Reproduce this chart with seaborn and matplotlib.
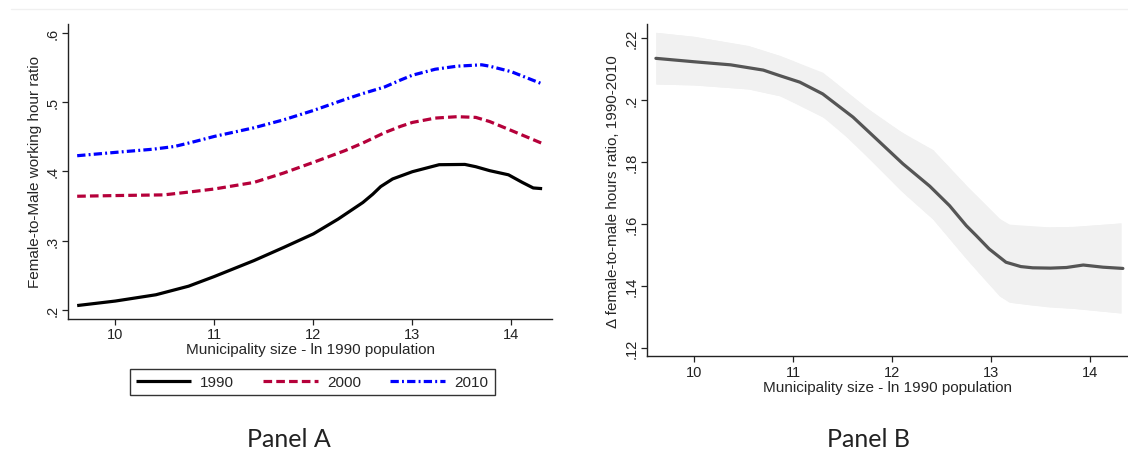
import numpy as np
import pandas as pd
import matplotlib
matplotlib.use("Agg")
import matplotlib.pyplot as plt
from matplotlib.lines import Line2D
import seaborn as sns

# ---------------- Panel A data ----------------
x_1990 = [9.615, 10.0, 10.41, 10.74, 11.0, 11.4, 11.7, 12.0, 12.25, 12.5, 12.6, 12.68, 12.8, 13.0, 13.27, 13.53, 13.64, 13.78, 13.97, 14.11, 14.22, 14.31]
y_1990 = [0.206, 0.2125, 0.2216, 0.234, 0.248, 0.271, 0.290, 0.3096, 0.331, 0.355, 0.367, 0.378, 0.389, 0.3995, 0.4096, 0.410, 0.4067, 0.401, 0.395, 0.384, 0.376, 0.375]

x_2000 = [9.615, 10.0, 10.49, 10.74, 11.0, 11.4, 11.7, 12.0, 12.32, 12.5, 12.72, 12.88, 13.0, 13.23, 13.45, 13.64, 13.78, 14.0, 14.30]
y_2000 = [0.364, 0.365, 0.366, 0.370, 0.3745, 0.384, 0.3976, 0.413, 0.430, 0.441, 0.456, 0.465, 0.4707, 0.477, 0.479, 0.478, 0.472, 0.459, 0.441]

x_2010 = [9.615, 10.0, 10.38, 10.6, 10.8, 11.0, 11.4, 11.7, 12.0, 12.32, 12.5, 12.72, 12.88, 13.0, 13.23, 13.45, 13.7, 13.78, 14.0, 14.30]
y_2010 = [0.4226, 0.4274, 0.432, 0.436, 0.443, 0.4505, 0.463, 0.4745, 0.488, 0.504, 0.5125, 0.522, 0.532, 0.539, 0.5476, 0.552, 0.554, 0.552, 0.544, 0.527]

series_labels = ["1990", "2000", "2010"]

# ---------------- Panel B data ----------------
xb = [9.616, 10.0, 10.37, 10.7, 10.867, 11.069, 11.30, 11.606, 11.84, 12.11, 12.38, 12.58, 12.75, 12.85, 12.98, 13.15, 13.3, 13.42, 13.6, 13.76, 13.93, 14.13, 14.33]
yb = [0.2135, 0.2124, 0.2114, 0.2097, 0.2079, 0.2058, 0.2020, 0.1945, 0.1875, 0.1794, 0.1722, 0.1659, 0.1594, 0.1562, 0.1519, 0.1476, 0.1462, 0.1458, 0.1457, 0.1459, 0.1467, 0.1460, 0.1456]

xb_hi = [9.616, 10.0, 10.55, 10.867, 11.30, 11.55, 11.80, 12.15, 12.41, 12.75, 12.92, 13.1, 13.2, 13.42, 13.86, 14.31]
yb_hi = [0.2219, 0.2206, 0.2176, 0.2144, 0.2090, 0.2025, 0.1961, 0.1885, 0.1840, 0.1724, 0.1670, 0.1612, 0.1596, 0.1589, 0.1592, 0.1603]

xb_lo = [9.616, 10.0, 10.55, 10.867, 11.0, 11.37, 11.74, 12.08, 12.41, 12.75, 13.08, 13.18, 13.59, 13.83, 14.31]
yb_lo = [0.2052, 0.2049, 0.2036, 0.2014, 0.1995, 0.1934, 0.1820, 0.1710, 0.1616, 0.1487, 0.1368, 0.1347, 0.1331, 0.1327, 0.1312]

x_ticks = [10, 11, 12, 13, 14]
ya_ticks = [0.2, 0.3, 0.4, 0.5, 0.6]
ya_ticklabels = [".2", ".3", ".4", ".5", ".6"]
yb_ticks = [0.12, 0.14, 0.16, 0.18, 0.20, 0.22]
yb_ticklabels = [".12", ".14", ".16", ".18", ".2", ".22"]

xlabel = "Municipality size - ln 1990 population"
ylabel_a = "Female-to-Male working hour ratio"
ylabel_b = "Δ female-to-male hours ratio, 1990-2010"

# ---------------- style ----------------
sns.set_style("ticks")
plt.rcParams["font.family"] = ["Liberation Sans", "DejaVu Sans"]
plt.rcParams["axes.edgecolor"] = "#222222"
plt.rcParams["xtick.color"] = "#222222"
plt.rcParams["ytick.color"] = "#222222"

fig = plt.figure(figsize=(11.28, 4.52), dpi=100)
fig.patch.set_facecolor("white")
fig.add_artist(Line2D([0.01, 1.0], [0.977, 0.977], color="#f0f0f0", lw=1.0, transform=fig.transFigure))

axA = fig.add_axes([0.0606, 0.2927, 0.4288, 0.652])
axB = fig.add_axes([0.5733, 0.2095, 0.4262, 0.7352])

colors = ["black", "#b5003a", "#0000ff"]
dashes = [None, (2.7, 1.3), (2.6, 1.0, 0.6, 1.0)]
xs = [x_1990, x_2000, x_2010]
ys = [y_1990, y_2000, y_2010]
handles = []
for xv, yv, c, d, lab in zip(xs, ys, colors, dashes, series_labels):
    df = pd.DataFrame({"x": xv, "y": yv})
    sns.lineplot(data=df, x="x", y="y", ax=axA, color=c, lw=2.3, label=lab)
    ln = axA.lines[-1]
    if d is not None:
        ln.set_dashes(d)
    ln.set_solid_capstyle("butt")
    ln.set_dash_capstyle("butt")
    ln.set_solid_joinstyle("round")
    handles.append(ln)

axA.set_xlim(9.526, 14.41)
axA.set_ylim(0.187, 0.613)
axA.set_xticks(x_ticks)
axA.set_yticks(ya_ticks)
axA.set_yticklabels(ya_ticklabels)
axA.set_xlabel(xlabel, fontsize=11, labelpad=1)
axA.set_ylabel(ylabel_a, fontsize=11, labelpad=3)
leg = axA.legend(handles=handles, labels=series_labels, ncol=3, loc="upper center",
                 bbox_to_anchor=(0.504, -0.145), frameon=True, fancybox=False,
                 edgecolor="black", fontsize=11, handlelength=3.6, columnspacing=1.9,
                 borderpad=0.4, handletextpad=0.6)
leg.get_frame().set_linewidth(1.0)

# Panel B
axB.fill_between(xb_hi, yb_hi, np.interp(xb_hi, xb_lo, yb_lo), color="#f1f1f1", lw=0)
axB.fill_between(xb_lo, np.interp(xb_lo, xb_hi, yb_hi), yb_lo, color="#f1f1f1", lw=0)
dfb = pd.DataFrame({"x": xb, "y": yb})
sns.lineplot(data=dfb, x="x", y="y", ax=axB, color="#555555", lw=2.3)
axB.lines[-1].set_solid_joinstyle("round")
axB.set_xlim(9.523, 14.376)
axB.set_ylim(0.1172, 0.2246)
axB.set_xticks(x_ticks)
axB.set_yticks(yb_ticks)
axB.set_yticklabels(yb_ticklabels)
axB.set_xlabel(xlabel, fontsize=11, labelpad=1)
axB.set_ylabel(ylabel_b, fontsize=11, labelpad=3)

for ax in (axA, axB):
    sns.despine(ax=ax)
    ax.tick_params(axis="both", direction="out", length=4, width=0.9, labelsize=10.5, pad=2)
    ax.tick_params(axis="y", labelrotation=90)
    for lab in ax.get_yticklabels():
        lab.set_va("center")
    for s in ("left", "bottom"):
        ax.spines[s].set_linewidth(1.0)

fig.text(0.256, 0.027, "Panel A", ha="center", va="center", fontsize=18, family=["Lato", "DejaVu Sans"], color="#222222")
fig.text(0.770, 0.027, "Panel B", ha="center", va="center", fontsize=18, family=["Lato", "DejaVu Sans"], color="#222222")

fig.savefig("out.png", dpi=100, facecolor="white")
